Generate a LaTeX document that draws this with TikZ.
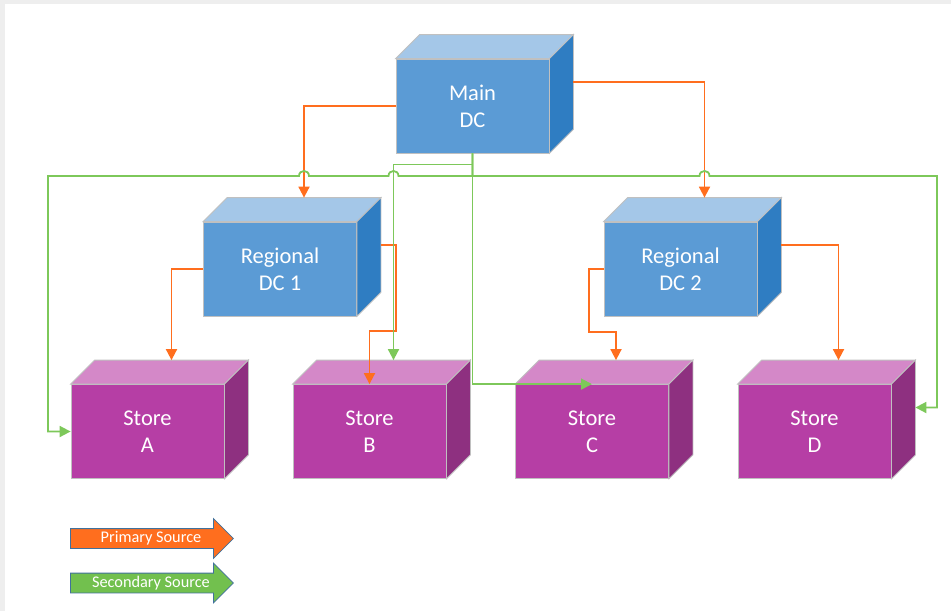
\documentclass[tikz,border=0pt]{standalone}
\usepackage{fontspec}
\setmainfont{Carlito}
\usetikzlibrary{arrows.meta,shapes.arrows}

\definecolor{dcfront}{RGB}{91,155,213}
\definecolor{dctop}{RGB}{164,199,232}
\definecolor{dcside}{RGB}{47,125,194}
\definecolor{storefront}{RGB}{182,62,165}
\definecolor{storetop}{RGB}{212,136,200}
\definecolor{storeside}{RGB}{142,48,128}
\definecolor{edgegray}{RGB}{192,192,192}
\definecolor{primorange}{RGB}{255,110,30}
\definecolor{secgreen}{RGB}{125,200,90}
\definecolor{legendfill}{RGB}{114,192,78}
\definecolor{legendline}{RGB}{65,113,156}
\definecolor{framegray}{RGB}{238,238,238}

\tikzset{
	box/.style={rectangle, draw=edgegray, line width=0.8pt, text=white, align=center,
		font=\fontsize{22.5}{27}\selectfont, minimum width=153pt, minimum height=94pt, inner sep=0pt},
	dcbox/.style={box, fill=dcfront},
	storebox/.style={box, fill=storefront},
	primary/.style={draw=primorange, line width=1.8pt, -{Triangle[width=11pt,length=11pt]}},
	secondary/.style={draw=secgreen, line width=1.8pt, -{Triangle[width=11pt,length=11pt]}},
	legend/.style={single arrow, draw=legendline, line width=0.8pt, text=white,
		font=\fontsize{16.3}{16.3}\selectfont, minimum height=163pt, single arrow head extend=10pt,
		inner xsep=0pt, inner ysep=2.5pt, text height=11pt, text depth=3pt, anchor=west}
}

% top and side faces of a box node
\newcommand{\cubefaces}[3]{%
	\filldraw[fill=#2, draw=edgegray, line width=0.8pt] (#1.north west) -- ([shift={(24pt,24pt)}]#1.north west)
		-- ([shift={(24pt,24pt)}]#1.north east) -- (#1.north east) -- cycle;
	\filldraw[fill=#3, draw=edgegray, line width=0.8pt] (#1.north east) -- ([shift={(24pt,24pt)}]#1.north east)
		-- ([shift={(24pt,24pt)}]#1.south east) -- (#1.south east) -- cycle;
}

\begin{document}
\begin{tikzpicture}[x=1pt, y=-1pt]
	\useasboundingbox (0,0) rectangle (951,611);
	\fill[white] (0,0) rectangle (951,611);
	\fill[framegray] (0,0) rectangle (951,4);
	\fill[framegray] (0,0) rectangle (5,611);

	\node[dcbox] (main) at (472.5,106) {Main\\DC};
	\cubefaces{main}{dctop}{dcside}
	\node[dcbox] (rdc1) at (280,269) {Regional\\DC 1};
	\cubefaces{rdc1}{dctop}{dcside}
	\node[dcbox] (rdc2) at (680.5,269) {Regional\\DC 2};
	\cubefaces{rdc2}{dctop}{dcside}

	\node[storebox] (storeA) at (147.5,431.5) {Store\\A};
	\cubefaces{storeA}{storetop}{storeside}
	\node[storebox] (storeB) at (369.5,431.5) {Store\\B};
	\cubefaces{storeB}{storetop}{storeside}
	\node[storebox] (storeC) at (592,431.5) {Store\\C};
	\cubefaces{storeC}{storetop}{storeside}
	\node[storebox] (storeD) at (814.5,431.5) {Store\\D};
	\cubefaces{storeD}{storetop}{storeside}

	% primary source
	\draw[primary] (main.west) -| ([shift={(24pt,24pt)}]rdc1.north);
	\draw[primary] ([shift={(24pt,24pt)}]main.east) -| ([shift={(24pt,24pt)}]rdc2.north);
	\draw[primary] (rdc1.west) -| ([shift={(24pt,24pt)}]storeA.north);
	\draw[primary] ([shift={(24pt,24pt)}]rdc1.east) -- ++(15,0) -- ++(0,86) -| (storeB.north);
	\draw[primary] (rdc2.west) -- ++(-15,0) -- ++(0,63) -| ([shift={(24pt,24pt)}]storeC.north);
	\draw[primary] ([shift={(24pt,24pt)}]rdc2.east) -| ([shift={(24pt,24pt)}]storeD.north);

	% secondary source
	\coordinate (busL) at (48,176);
	\coordinate (busR) at (937,176);
	\draw[secondary] (main.south) -- ++(0,11) -| ([shift={(24pt,24pt)}]storeB.north);
	\draw[secondary] (main.south) |- (storeC.north);
	\draw[secondary] (main.south) -- (472.5,176) -- (398.5,176)
		.. controls (398.5,169.3) and (388.5,169.3) .. (388.5,176) -- (309,176)
		.. controls (309,169.3) and (299,169.3) .. (299,176) -- (busL) |- (storeA.west);
	\draw[secondary] (main.south) -- (472.5,176) -- (699.5,176)
		.. controls (699.5,169.3) and (709.5,169.3) .. (709.5,176) -- (busR)
		|- ([shift={(24pt,24pt)}]storeD.east);

	\node[legend, fill=primorange] (primleg) at (70,538.5) {\hspace*{8pt}Primary Source};
	\node[legend, fill=legendfill] (secleg) at (70,583) {\hspace*{8pt}Secondary Source};
\end{tikzpicture}
\end{document}
